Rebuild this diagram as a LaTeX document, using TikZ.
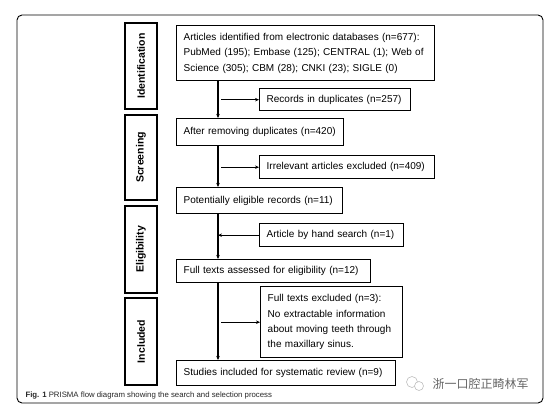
\documentclass[tikz,border=0pt]{standalone}
\usepackage{fontspec}
\setmainfont{Liberation Sans}
\newfontfamily\cjk{Noto Sans CJK SC}
\usetikzlibrary{arrows.meta}

\tikzset{
  box/.style={draw, line width=1.4pt, anchor=north west, inner xsep=7pt, inner ysep=0pt,
    align=left, font=\fontsize{10}{15.3}\selectfont},
  stage/.style={draw, line width=1.6pt, rotate=90, minimum height=32pt, inner sep=0pt,
    font=\fontsize{10.5}{12}\selectfont\bfseries},
  flow/.style={line width=1.1pt, ->},
}

\begin{document}
\begin{tikzpicture}[x=1pt, y=-1pt, >={Stealth[length=4pt,width=3.5pt]}]
  \useasboundingbox (0,0) rectangle (560,412);
  % Khung ngoai
  \draw[line width=0.9pt, rounded corners=5pt] (17,15) rectangle (543,403);

  % Cac giai doan (ben trai)
  \node[stage, minimum width=86pt] (sIdent) at (141,66) {Identification};
  \node[stage, minimum width=85pt] (sScreen) at (141,157.5) {Screening};
  \node[stage, minimum width=87pt] (sElig) at (141,249.5) {Eligibility};
  \node[stage, minimum width=87pt] (sIncl) at (141,341.5) {Included};

  % Cac o chinh
  \node[box, text width=244pt, minimum height=55pt] (ident) at (176,25)
    {Articles identified from electronic databases (n=677):\\
     PubMed (195); Embase (125); CENTRAL (1); Web of\\
     Science (305); CBM (28); CNKI (23); SIGLE (0)};
  \node[box, text width=137pt, minimum height=22pt] (dup) at (259,88)
    {Records in duplicates (n=257)};
  \node[box, text width=153pt, minimum height=27pt] (after) at (176,118)
    {After removing duplicates (n=420)};
  \node[box, text width=161pt, minimum height=23pt] (irrel) at (259,155)
    {Irrelevant articles excluded (n=409)};
  \node[box, text width=152pt, minimum height=26pt] (potent) at (176,187)
    {Potentially eligible records (n=11)};
  \node[box, text width=130pt, minimum height=23pt] (hand) at (259,223)
    {Article by hand search (n=1)};
  \node[box, text width=180pt, minimum height=23pt] (full) at (176,259)
    {Full texts assessed for eligibility (n=12)};
  \node[box, text width=128pt, minimum height=71pt] (excl) at (260,286)
    {Full texts excluded (n=3):\\
     No extractable information\\
     about moving teeth through\\
     the maxillary sinus.};
  \node[box, text width=205pt, minimum height=25pt] (incl) at (176,360)
    {Studies included for systematic review (n=9)};

  % Truc doc va cac mui ten
  \coordinate (spine) at (218,0);
  \draw[flow] (ident.south -| spine) -- (after.north -| spine);
  \draw[flow] (after.south -| spine) -- (potent.north -| spine);
  \draw[flow] (potent.south -| spine) -- (full.north -| spine);
  \draw[flow] (full.south -| spine) -- (incl.north -| spine);
  \foreach \b in {dup, irrel, excl} {
    \draw[flow] (\b.west -| spine) ++(3,0) -- (\b.west);
  }
  \draw[flow] (hand.west) -- (hand.west -| spine);

  % Chu thich
  \node[anchor=west, text=black!85, font=\fontsize{7.8}{9}\selectfont] (caption) at (22,395)
    {\textbf{Fig. 1} PRISMA flow diagram showing the search and selection process};
  % Dau nuoc
  \draw[gray!50, line width=0.6pt] (412,382) circle (5.5);
  \draw[gray!50, line width=0.6pt, fill=white] (419,386) circle (4.5);
  \node[anchor=west, text=gray!80!black, font=\cjk\fontsize{12}{12}\selectfont] (mark) at (429,384)
    {浙一口腔正畸林军};
\end{tikzpicture}
\end{document}
